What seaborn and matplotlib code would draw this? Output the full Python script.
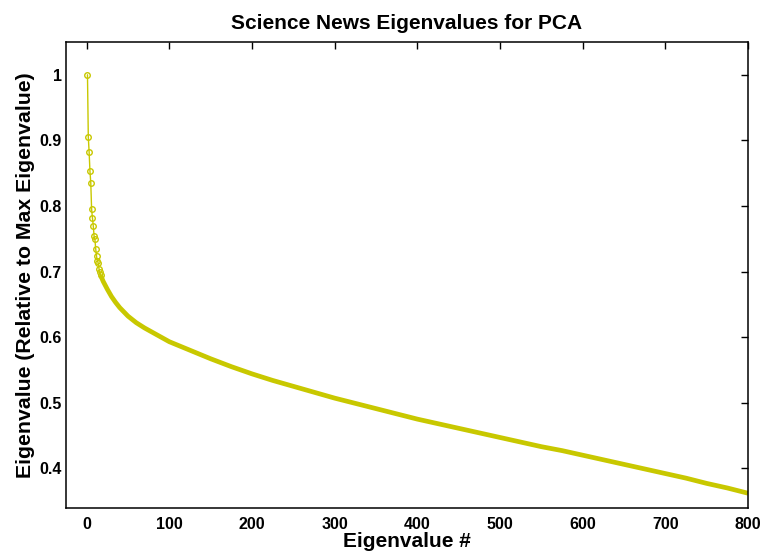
import matplotlib
matplotlib.use("Agg")
import matplotlib.pyplot as plt
import seaborn as sns

# Leading eigenvalues, drawn individually with markers
head_idx = list(range(1, 18))
head_val = [1.000, 0.905, 0.882, 0.853, 0.835, 0.795, 0.782, 0.770, 0.754,
            0.749, 0.734, 0.723, 0.716, 0.713, 0.704, 0.699, 0.694]

# Remaining spectrum (dense region, rendered as a solid band)
tail_idx = [17, 20, 25, 30, 35, 40, 50, 60, 70, 80, 90, 100, 125, 150, 175,
            200, 225, 250, 275, 300, 325, 350, 375, 400, 425, 450, 475, 500,
            525, 550, 575, 600, 625, 650, 675, 700, 725, 750, 775, 800]
tail_val = [0.694, 0.685, 0.673, 0.662, 0.653, 0.645, 0.632, 0.622, 0.614,
            0.607, 0.600, 0.593, 0.580, 0.567, 0.555, 0.544, 0.534, 0.525,
            0.516, 0.507, 0.499, 0.491, 0.483, 0.475, 0.468, 0.461, 0.454,
            0.447, 0.440, 0.433, 0.427, 0.420, 0.413, 0.406, 0.399, 0.392,
            0.385, 0.377, 0.370, 0.362]

x_ticks = [0, 100, 200, 300, 400, 500, 600, 700, 800]
y_ticks = [0.4, 0.5, 0.6, 0.7, 0.8, 0.9, 1.0]
y_tick_labels = ["0.4", "0.5", "0.6", "0.7", "0.8", "0.9", "1"]

LINE = "#c8c800"

sns.set_theme(style="white")
plt.rcParams["font.family"] = ["Liberation Sans", "DejaVu Sans"]
plt.rcParams["font.weight"] = "bold"
plt.rcParams["axes.labelweight"] = "bold"
plt.rcParams["axes.titleweight"] = "bold"
plt.rcParams["text.color"] = "black"
plt.rcParams["axes.labelcolor"] = "black"

fig = plt.figure(figsize=(7.61, 5.52), dpi=100)
ax = fig.add_axes([0.0867, 0.0803, 0.8963, 0.8437])

sns.lineplot(x=tail_idx, y=tail_val, color=LINE, linewidth=3.4, ax=ax,
             solid_capstyle="butt", solid_joinstyle="round")
sns.lineplot(x=head_idx, y=head_val, color=LINE, linewidth=1.0, ax=ax,
             marker="o", markersize=4, markerfacecolor="none",
             markeredgecolor=LINE, markeredgewidth=1.0)

ax.set_xlim(-25, 800)
ax.set_ylim(0.34, 1.05)
ax.set_xticks(x_ticks)
ax.set_xticklabels([str(v) for v in x_ticks])
ax.set_yticks(y_ticks)
ax.set_yticklabels(y_tick_labels)

ax.tick_params(direction="in", length=5, width=1, top=True, right=True,
               labelsize=11.5, colors="black")
ax.tick_params(axis="x", pad=7)
ax.tick_params(axis="y", pad=3)
for lab in ax.get_xticklabels() + ax.get_yticklabels():
    lab.set_fontweight("bold")
for sp in ax.spines.values():
    sp.set_visible(True)
    sp.set_color("black")
    sp.set_linewidth(1.1)

ax.set_title("Science News Eigenvalues for PCA", fontsize=15, pad=9,
             color="black")
ax.set_xlabel("Eigenvalue #", fontsize=15, labelpad=0, color="black")
ax.set_ylabel("Eigenvalue (Relative to Max Eigenvalue)", fontsize=15.3,
              labelpad=3, color="black")

fig.savefig("out.png", dpi=100, facecolor="white")
